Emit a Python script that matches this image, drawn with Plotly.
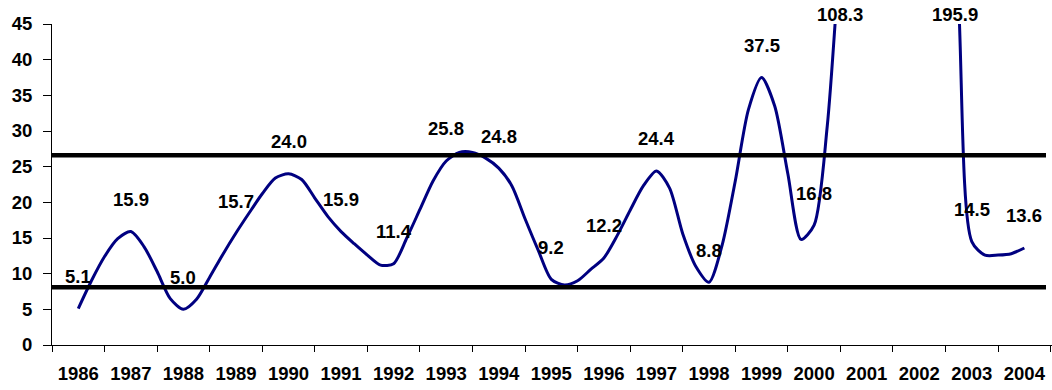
import plotly.graph_objects as go

# Quarterly ratio series (periods not listed lie far above the axis maximum)
periods = [
    "1986Q1", "1986Q2", "1986Q3", "1986Q4",
    "1987Q1", "1987Q2", "1987Q3", "1987Q4",
    "1988Q1", "1988Q2", "1988Q3", "1988Q4",
    "1989Q1", "1989Q2", "1989Q3", "1989Q4",
    "1990Q1", "1990Q2", "1990Q3", "1990Q4",
    "1991Q1", "1991Q2", "1991Q3", "1991Q4",
    "1992Q1", "1992Q2", "1992Q3", "1992Q4",
    "1993Q1", "1993Q2", "1993Q3", "1993Q4",
    "1994Q1", "1994Q2", "1994Q3", "1994Q4",
    "1995Q1", "1995Q2", "1995Q3", "1995Q4",
    "1996Q1", "1996Q2", "1996Q3", "1996Q4",
    "1997Q1", "1997Q2", "1997Q3", "1997Q4",
    "1998Q1", "1998Q2", "1998Q3", "1998Q4",
    "1999Q1", "1999Q2", "1999Q3", "1999Q4",
    "2000Q1", "2000Q2", "2000Q3",
    "2001Q1",
    "2002Q1", "2002Q4",
    "2003Q1", "2003Q2", "2003Q3", "2003Q4",
    "2004Q1",
]
ratio = [
    5.1, 9.0, 12.4, 14.9,
    15.9, 13.8, 10.3, 6.5,
    5.0, 6.4, 9.5, 12.7,
    15.7, 18.5, 21.2, 23.4,
    24.0, 23.2, 20.6, 18.0,
    15.9, 14.2, 12.6, 11.2,
    11.4, 15.0, 19.0, 23.0,
    25.8, 27.0, 27.0, 26.2,
    24.8, 22.3, 17.7, 13.3,
    9.2, 8.4, 9.0, 10.6,
    12.2, 15.3, 18.9, 22.3,
    24.4, 22.0, 15.6, 11.0,
    8.8, 14.0, 23.0, 33.0,
    37.5, 33.5, 24.0, 14.8,
    16.8, 30.7, 56.0,
    108.3,
    195.9, 48.0,
    14.5, 12.6, 12.6, 12.8,
    13.6,
]

years = list(range(1986, 2005))
labelled_periods = [f"{y}Q1" for y in years]

upper_band = 26.6
lower_band = 8.1

Y_MAX = 45
FONT = dict(family="Liberation Sans, Arial, sans-serif", size=18.5, color="black", weight="bold")


def to_year(period):
    y, q = period.split("Q")
    return int(y) + (int(q) - 1) / 4


x_vals = [to_year(p) for p in periods]

fig = go.Figure()
fig.add_trace(go.Scatter(
    x=x_vals, y=ratio, mode="lines",
    line=dict(color="#000080", width=3, shape="spline", smoothing=0.75),
    hoverinfo="skip", showlegend=False,
))

# Band lines across the plot
for level in (upper_band, lower_band):
    fig.add_shape(type="line", xref="paper", x0=0, x1=0.994, yref="y", y0=level, y1=level,
                  line=dict(color="black", width=4.5), layer="above")

# Value labels for the first quarter of every year
off_scale_shift = {"2001Q1": -27, "2002Q1": 36}
for p in labelled_periods:
    v = ratio[periods.index(p)]
    if v <= Y_MAX:
        fig.add_annotation(x=to_year(p), y=v, text=f"{v:.1f}", showarrow=False,
                           yshift=32, font=FONT)
    else:
        fig.add_annotation(x=to_year(p), y=1, yref="paper", text=f"{v:.1f}", showarrow=False,
                           yanchor="middle", yshift=10, xshift=off_scale_shift.get(p, 0), font=FONT)

px_per_year = 52.56
fig.update_layout(
    width=1052, height=390,
    margin=dict(l=52, r=0, t=24, b=45),
    paper_bgcolor="white", plot_bgcolor="white",
    xaxis=dict(
        range=[1985.5, 1985.5 + 1000 / px_per_year],
        tickmode="array", tickvals=years, ticktext=[str(y) for y in years],
        ticks="", showline=True, linecolor="black", linewidth=1,
        showgrid=False, zeroline=False, tickfont=FONT, ticklabelstandoff=12,
        minor=dict(tickmode="array", tickvals=[y - 0.5 for y in years] + [years[-1] + 0.5],
                   ticks="outside", ticklen=6, tickwidth=1, tickcolor="black", showgrid=False),
    ),
    yaxis=dict(
        range=[0, Y_MAX], tickmode="linear", tick0=0, dtick=5,
        ticks="outside", ticklen=8, tickwidth=1, tickcolor="black",
        showline=True, linecolor="black", linewidth=1,
        showgrid=False, zeroline=False, tickfont=FONT, ticklabelstandoff=7,
    ),
)

fig.write_html("out.html", include_plotlyjs=True, config={"displayModeBar": False})
